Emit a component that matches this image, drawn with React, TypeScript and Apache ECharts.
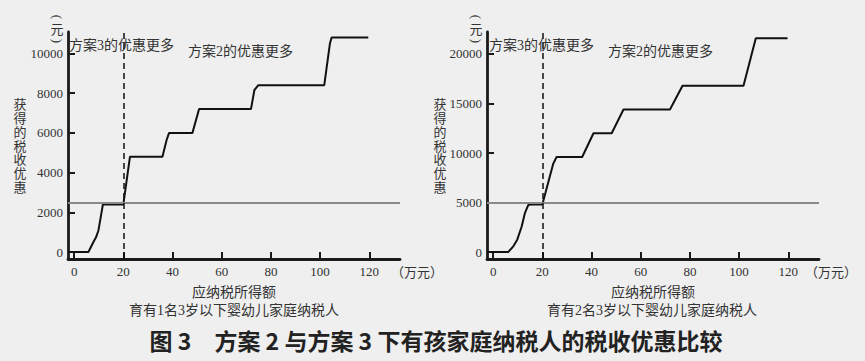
import React, { useEffect, useRef } from "react";
import * as echarts from "echarts";

// ---- data ----
const xTicks = [0, 20, 40, 60, 80, 100, 120];
const leftYTicks = [0, 2000, 4000, 6000, 8000, 10000];
const rightYTicks = [0, 5000, 10000, 15000, 20000];

// 育有1名3岁以下婴幼儿家庭纳税人 (方案2 benefit curve)
const leftIncome = [-2.5, 5.8, 7.9, 8.9, 9.9, 11.7, 20, 22.7, 35.9, 37.6, 38.6, 48.1, 50.8, 71.9, 73.3, 74.9, 101.7, 104.0, 104.7, 119.6];
const leftBenefit = [0, 0, 520, 740, 1100, 2400, 2400, 4800, 4800, 5640, 6000, 6000, 7200, 7200, 8160, 8400, 8400, 10500, 10800, 10800];

// 育有2名3岁以下婴幼儿家庭纳税人 (方案2 benefit curve)
const rightIncome = [-2.5, 6.1, 8.2, 9.8, 11.6, 12.9, 14.3, 15.5, 20, 24.4, 25.8, 36.2, 40.8, 48.2, 53.0, 71.9, 77.0, 101.8, 106.8, 119.7];
const rightBenefit = [0, 0, 580, 1250, 2580, 3930, 4760, 4800, 4800, 8900, 9600, 9600, 12000, 12000, 14400, 14400, 16800, 16800, 21600, 21600];

const leftScheme3 = 2500;
const rightScheme3 = 5000;
const breakEven = 20;

const SERIF = '"Liberation Serif", "Times New Roman", "Noto Sans CJK SC", serif';
const SANS_CJK = '"Noto Sans CJK SC", "Noto Sans", sans-serif';
const AXIS_COLOR = "#1a1a1a";
const TEXT_COLOR = "#333";

function xAxisCfg(gridIndex: number) {
  return {
    type: "value" as const,
    gridIndex,
    min: -2.5,
    max: 132.5,
    axisLine: { show: true, onZero: false, lineStyle: { color: AXIS_COLOR, width: 2.8 } },
    axisTick: { show: true, inside: true, length: 7, customValues: xTicks, lineStyle: { color: AXIS_COLOR, width: 2 } },
    axisLabel: { customValues: xTicks, margin: 6, fontSize: 13, color: TEXT_COLOR, fontFamily: SERIF },
    splitLine: { show: false },
  };
}

function yAxisCfg(gridIndex: number, min: number, max: number, ticks: number[]) {
  return {
    type: "value" as const,
    gridIndex,
    min,
    max,
    axisLine: { show: true, onZero: false, lineStyle: { color: AXIS_COLOR, width: 2.8 } },
    axisTick: { show: true, inside: true, length: 7, customValues: ticks, lineStyle: { color: AXIS_COLOR, width: 2 } },
    axisLabel: {
      customValues: ticks,
      margin: 5,
      fontSize: 13,
      color: TEXT_COLOR,
      fontFamily: SERIF,
      formatter: (v: number) => String(v),
    },
    splitLine: { show: false },
  };
}

function stepSeries(idx: number, xs: number[], ys: number[], hLine: number) {
  return {
    type: "line" as const,
    xAxisIndex: idx,
    yAxisIndex: idx,
    data: xs.map((x, i) => [x, ys[i]]),
    symbol: "none",
    showSymbol: false,
    lineStyle: { color: "#111", width: 2 },
    z: 3,
    markLine: {
      silent: true,
      symbol: "none",
      label: { show: false },
      emphasis: { disabled: true },
      data: [
        { yAxis: hLine, lineStyle: { type: "solid", color: "#8a8a8a", width: 2 } },
        { xAxis: breakEven, lineStyle: { type: [6, 4], color: "#111", width: 1.5 } },
      ],
    },
  };
}

function txt(x: number, y: number, text: string, opts: any = {}, rotation = 0) {
  return {
    type: "text" as const,
    x,
    y,
    rotation,
    silent: true,
    style: {
      text,
      fontSize: 14,
      fontFamily: SERIF,
      fill: TEXT_COLOR,
      align: "left",
      verticalAlign: "middle",
      ...opts,
    },
  };
}

function unitYuan(x: number) {
  const o = { align: "center", fontSize: 13, fontFamily: SERIF };
  return [
    txt(x, 17, "(", o, -Math.PI / 2),
    txt(x, 29, "元", { ...o, fontSize: 13 }),
    txt(x, 41, ")", o, -Math.PI / 2),
  ];
}

export default function App() {
  const ref = useRef<HTMLDivElement>(null);
  useEffect(() => {
    document.body.style.margin = "0";
    const chart = echarts.init(ref.current!, null, { renderer: "svg" });
    chart.setOption({
      animation: false,
      backgroundColor: "#efefef",
      grid: [
        { left: 68, top: 32, width: 332, height: 227 },
        { left: 487, top: 32, width: 332, height: 227 },
      ],
      xAxis: [xAxisCfg(0), xAxisCfg(1)],
      yAxis: [yAxisCfg(0, -350, 11080, leftYTicks), yAxisCfg(1, -700, 22220, rightYTicks)],
      series: [
        stepSeries(0, leftIncome, leftBenefit, leftScheme3),
        stepSeries(1, rightIncome, rightBenefit, rightScheme3),
      ],
      graphic: [
        // left chart
        txt(69, 45, "方案3的优惠更多"),
        txt(188, 51, "方案2的优惠更多"),
        ...unitYuan(57),
        txt(20, 146, "获\n得\n的\n税\n收\n优\n惠", { align: "center", fontSize: 13, lineHeight: 13.8 }),
        txt(391, 272, "（万元）", { fontSize: 13 }),
        txt(234, 292, "应纳税所得额", { align: "center" }),
        txt(234, 310, "育有1名3岁以下婴幼儿家庭纳税人", { align: "center" }),
        // right chart
        txt(489, 45, "方案3的优惠更多"),
        txt(608, 51, "方案2的优惠更多"),
        ...unitYuan(476),
        txt(440, 146, "获\n得\n的\n税\n收\n优\n惠", { align: "center", fontSize: 13, lineHeight: 13.8 }),
        txt(805, 272, "（万元）", { fontSize: 13 }),
        txt(653, 292, "应纳税所得额", { align: "center" }),
        txt(652, 310, "育有2名3岁以下婴幼儿家庭纳税人", { align: "center" }),
        // title
        txt(436, 340, "图 3　方案 2 与方案 3 下有孩家庭纳税人的税收优惠比较", {
          align: "center",
          fontSize: 23,
          fontWeight: "bold",
          fontFamily: SANS_CJK,
          fill: "#222",
        }),
      ],
    });
    return () => chart.dispose();
  }, []);
  return <div ref={ref} style={{ width: 865, height: 361 }} />;
}
